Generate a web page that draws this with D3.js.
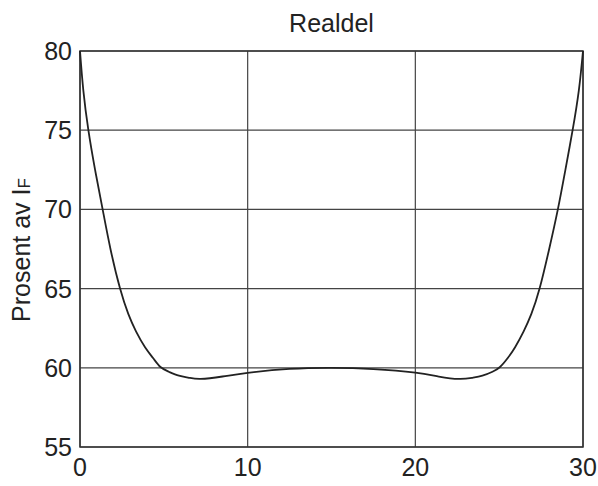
<!DOCTYPE html>
<html>
<head>
<meta charset="utf-8">
<script src="https://cdn.jsdelivr.net/npm/d3@7"></script>
<style>
  html, body { margin: 0; padding: 0; background: #fff; overflow: hidden; }
  svg { display: block; }
  text { font-family: "Liberation Sans", Arial, sans-serif; fill: #222; }
</style>
</head>
<body>
<svg id="chart"></svg>
<script>
// data
const xValues = [0, 0.2, 0.5, 0.9, 1.35, 1.83, 2.39, 2.88, 3.34, 3.88, 4.37, 4.8, 5.3, 5.9, 6.5, 7.2, 8.5, 10, 12.5, 15, 17.5, 20, 21.4, 22.6, 23.4, 24.0, 24.6, 25.05, 25.5, 25.95, 26.46, 26.92, 27.41, 27.97, 28.5, 28.95, 29.38, 29.75, 30];
const yValues = [80, 77.5, 75, 72.5, 70, 67.44, 65, 63.4, 62.3, 61.3, 60.6, 60.05, 59.75, 59.5, 59.37, 59.3, 59.45, 59.68, 59.93, 60.0, 59.92, 59.69, 59.45, 59.3, 59.37, 59.5, 59.75, 60.05, 60.6, 61.3, 62.3, 63.4, 65, 67.44, 70, 72.5, 75, 77.5, 80];
const xTicks = [0, 10, 20, 30];
const yTicks = [55, 60, 65, 70, 75, 80];
const title = 'Realdel';

const width = 598, height = 486;
const margin = { top: 51, right: 15, bottom: 39, left: 80 };
const innerWidth = width - margin.left - margin.right;
const innerHeight = height - margin.top - margin.bottom;

const svg = d3.select('#chart').attr('width', width).attr('height', height);
const chart = svg.append('g').attr('transform', `translate(${margin.left}, ${margin.top})`);

const xscale = d3.scaleLinear().domain([0, 30]).range([0, innerWidth]);
const yscale = d3.scaleLinear().domain([55, 80]).range([innerHeight, 0]);

// grid
chart.append('g').selectAll('line').data(xTicks).enter().append('line')
    .attr('x1', d => xscale(d)).attr('x2', d => xscale(d))
    .attr('y1', 0).attr('y2', innerHeight)
    .attr('stroke', '#444').attr('stroke-width', 1.2);
chart.append('g').selectAll('line').data(yTicks).enter().append('line')
    .attr('x1', 0).attr('x2', innerWidth)
    .attr('y1', d => yscale(d)).attr('y2', d => yscale(d))
    .attr('stroke', '#444').attr('stroke-width', 1.2);

// frame
chart.append('rect')
    .attr('width', innerWidth).attr('height', innerHeight)
    .attr('fill', 'none').attr('stroke', '#333').attr('stroke-width', 1.5);

// tick labels
chart.append('g').selectAll('text').data(xTicks).enter().append('text')
    .attr('x', d => xscale(d))
    .attr('y', innerHeight + 29)
    .attr('text-anchor', 'middle')
    .attr('font-size', 25)
    .text(d => d);
chart.append('g').selectAll('text').data(yTicks).enter().append('text')
    .attr('x', -8)
    .attr('y', d => yscale(d) + 9)
    .attr('text-anchor', 'end')
    .attr('font-size', 25)
    .text(d => d);

// curve
const data = xValues.map((x, i) => ({ x: x, y: yValues[i] }));
const line = d3.line()
    .x(d => xscale(d.x))
    .y(d => yscale(d.y))
    .curve(d3.curveNatural);
chart.append('path')
    .datum(data)
    .attr('d', line)
    .attr('fill', 'none')
    .attr('stroke', '#222')
    .attr('stroke-width', 1.8);

// title
svg.append('text')
    .attr('x', margin.left + innerWidth / 2).attr('y', 32)
    .attr('text-anchor', 'middle').attr('font-size', 25)
    .text(title);

// y label
const ylab = svg.append('text')
    .attr('transform', `translate(30, 250) rotate(-90)`)
    .attr('text-anchor', 'middle').attr('font-size', 25);
ylab.append('tspan').text('Prosent av I');
ylab.append('tspan').attr('font-size', 17).text('F');
</script>
</body>
</html>
